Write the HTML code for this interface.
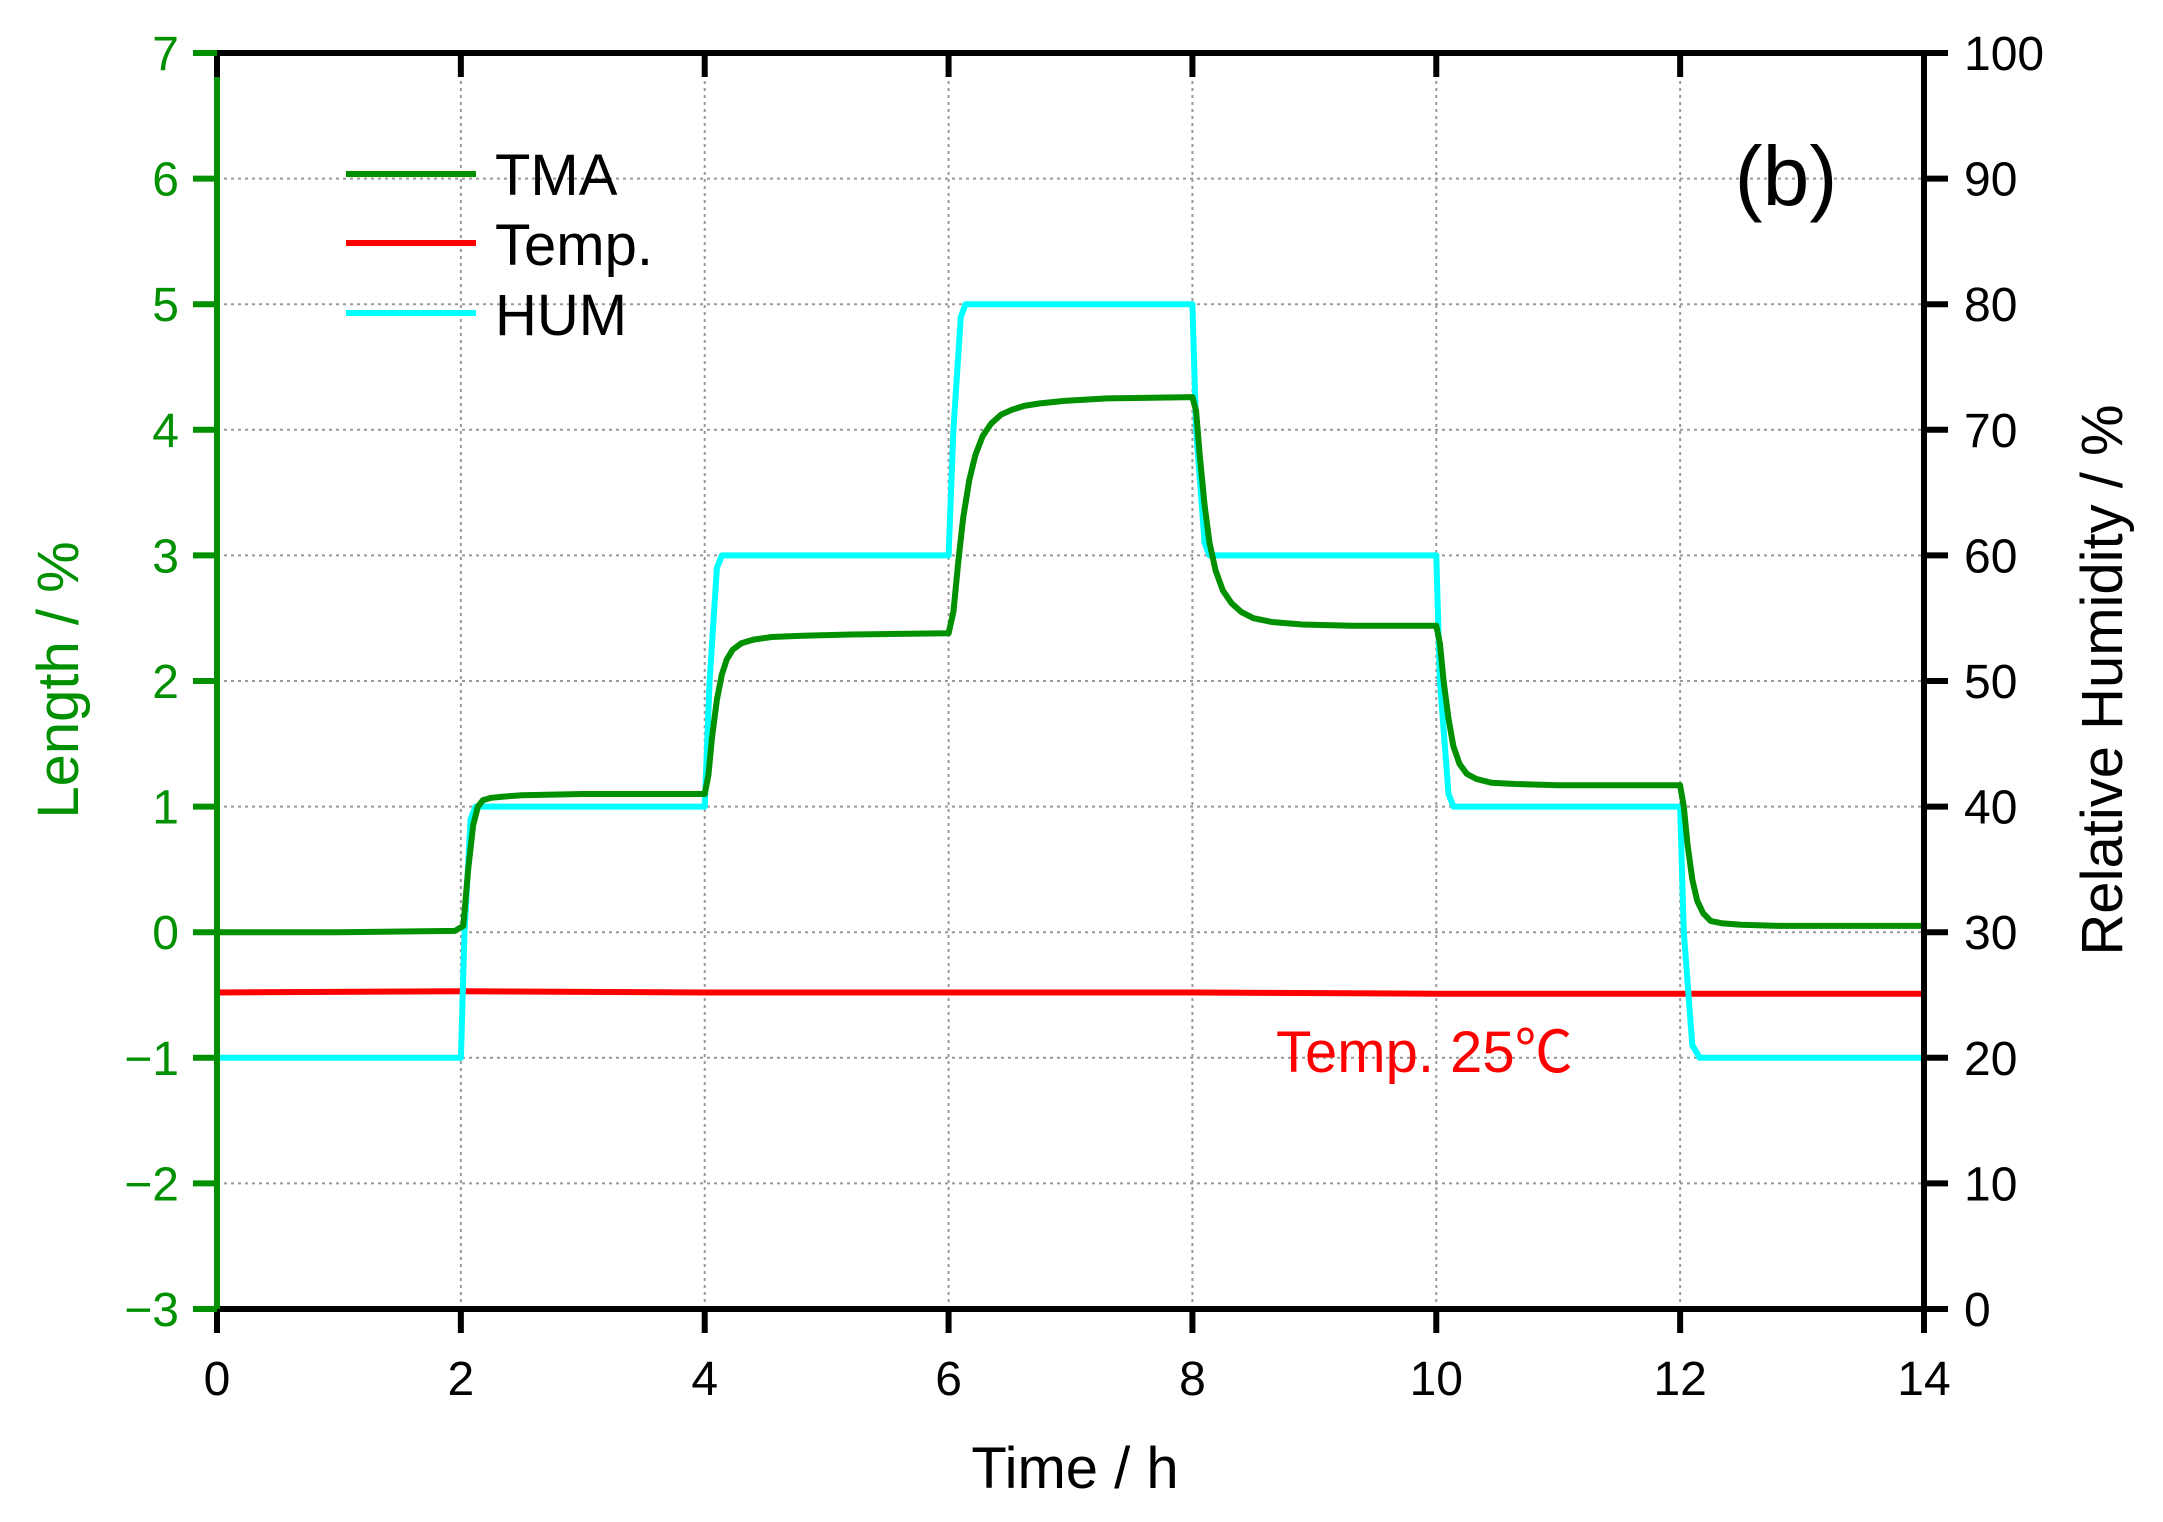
<!DOCTYPE html>
<html><head><meta charset="utf-8"><style>
html,body{margin:0;padding:0;background:#fff}
svg{display:block}
text{font-family:"Liberation Sans","Noto Sans CJK JP",sans-serif}
</style></head><body>
<svg id="chart" width="2163" height="1522" viewBox="0 0 2163 1522" xmlns="http://www.w3.org/2000/svg">
<g id="grid"></g>
<g id="series"></g>
<g id="axes"></g>
<text x="0" y="0" transform="translate(78,680) rotate(-90)" text-anchor="middle" font-size="58" fill="#009000">Length / %</text>
<text x="0" y="0" transform="translate(2122,680) rotate(-90)" text-anchor="middle" font-size="58" fill="#000">Relative Humidity / %</text>
<text x="1075" y="1488" text-anchor="middle" font-size="58" fill="#000">Time / h</text>
<text x="1786" y="205" text-anchor="middle" font-size="84" fill="#000">(b)</text>
<text x="1276" y="1072" font-size="58" fill="#ff0000">Temp. 25℃</text>
<g>
<line x1="346" y1="174" x2="476" y2="174" stroke="#009000" stroke-width="6"/>
<text x="495" y="195" font-size="58">TMA</text>
<line x1="346" y1="243" x2="476" y2="243" stroke="#ff0000" stroke-width="6"/>
<text x="495" y="265" font-size="58">Temp.</text>
<line x1="346" y1="313" x2="476" y2="313" stroke="#00ffff" stroke-width="6"/>
<text x="495" y="335" font-size="58">HUM</text>
</g>
</svg>
<script>
const xTicks = [0,2,4,6,8,10,12,14];
const yLeftTicks = [-3,-2,-1,0,1,2,3,4,5,6,7];
const yRightTicks = [0,10,20,30,40,50,60,70,80,90,100];
const yLeftLabels = ["−3","−2","−1","0","1","2","3","4","5","6","7"];
const tmaT = [0,1.0,1.95,2.02,2.06,2.1,2.14,2.18,2.25,2.35,2.5,3.0,4.0,4.03,4.06,4.1,4.14,4.18,4.23,4.3,4.4,4.55,4.8,5.2,6.0,6.04,6.08,6.12,6.17,6.22,6.28,6.35,6.43,6.52,6.62,6.75,6.95,7.3,8.0,8.03,8.06,8.1,8.14,8.19,8.25,8.32,8.4,8.5,8.65,8.9,9.3,10.0,10.03,10.06,10.1,10.14,10.19,10.25,10.33,10.45,10.65,11.0,12.0,12.03,12.06,12.1,12.14,12.19,12.25,12.35,12.5,12.8,14.0];
const tmaV = [0,0,0.01,0.05,0.5,0.85,1.0,1.05,1.07,1.08,1.09,1.1,1.1,1.25,1.55,1.85,2.05,2.17,2.25,2.3,2.33,2.35,2.36,2.37,2.38,2.55,2.95,3.3,3.6,3.8,3.95,4.05,4.12,4.16,4.19,4.21,4.23,4.25,4.26,4.15,3.8,3.4,3.1,2.88,2.72,2.62,2.55,2.5,2.47,2.45,2.44,2.44,2.3,2.0,1.7,1.48,1.34,1.26,1.22,1.19,1.18,1.17,1.17,1.0,0.7,0.42,0.25,0.15,0.09,0.07,0.06,0.05,0.05];
const humT = [0,2.0,2.03,2.08,2.12,4.0,4.04,4.1,4.14,6.0,6.04,6.1,6.14,8.0,8.03,8.1,8.14,10.0,10.03,10.1,10.14,12.0,12.03,12.1,12.16,14.0];
const humV = [20,20,30,39,40,40,50,59,60,60,70,79,80,80,70,61,60,60,50,41,40,40,30,21,20,20];
const tempT = [0,2,4,6,8,10,12,14];
const tempV = [-0.48,-0.47,-0.48,-0.48,-0.48,-0.49,-0.49,-0.49];

const L=217,R=1924,T=53,B=1309;
const NS="http://www.w3.org/2000/svg";
const xs=t=>L+(t-0)/(14-0)*(R-L);
const yl=v=>B-(v+3)/10*(B-T);
const yr=v=>B-v/100*(B-T);
function mk(tag,attrs,parent){const e=document.createElementNS(NS,tag);for(const k in attrs)e.setAttribute(k,attrs[k]);parent.appendChild(e);return e;}
const grid=document.getElementById('grid'),series=document.getElementById('series'),axes=document.getElementById('axes');
xTicks.forEach(t=>{ if(t>0&&t<14){const g=mk('line',{x1:xs(t),x2:xs(t),y1:T,y2:B,stroke:'#999','stroke-width':2,'stroke-dasharray':'3,4'},grid);

}});
yLeftTicks.forEach(v=>{ if(v>-3&&v<7){const g=mk('line',{x1:L,x2:R,y1:yl(v),y2:yl(v),stroke:'#999','stroke-width':2,'stroke-dasharray':'3,4'},grid);

}});
function path(ts,vs,yf,color,name){let d='';ts.forEach((t,i)=>{d+=(i?'L':'M')+xs(t).toFixed(1)+','+yf(vs[i]).toFixed(1);});
const p=mk('path',{d:d,fill:'none',stroke:color,'stroke-width':6,'stroke-linejoin':'round'},series);

}
path(tempT,tempV,yl,'#ff0000','temp-line');
path(humT,humV,yr,'#00ffff','hum-line');
path(tmaT,tmaV,yl,'#009000','tma-line');
let a;
a=mk('line',{x1:L,x2:R,y1:T,y2:T,stroke:'#000','stroke-width':6},axes);


a=mk('line',{x1:L-2,x2:R+2,y1:B,y2:B,stroke:'#000','stroke-width':6},axes);


a=mk('line',{x1:R,x2:R,y1:T,y2:B+24,stroke:'#000','stroke-width':6},axes);


a=mk('line',{x1:L,x2:L,y1:T,y2:B+24,stroke:'#009000','stroke-width':6},axes);


xTicks.forEach((t,i)=>{
 let k=mk('line',{x1:xs(t),x2:xs(t),y1:B,y2:B+24,stroke:'#000','stroke-width':6},axes);
 
 
 k=mk('line',{x1:xs(t),x2:xs(t),y1:T,y2:T+24,stroke:'#000','stroke-width':6},axes);
 
 
 const tx=mk('text',{x:xs(t),y:B+86,'text-anchor':'middle','font-size':48,fill:'#000'},axes);
 tx.textContent=String(t);
 
 
});
yLeftTicks.forEach((v,i)=>{
 const k=mk('line',{x1:L-24,x2:L,y1:yl(v),y2:yl(v),stroke:'#009000','stroke-width':6},axes);
 
 
 const tx=mk('text',{x:L-38,y:yl(v)+17,'text-anchor':'end','font-size':48,fill:'#009000'},axes);
 tx.textContent=yLeftLabels[i];
 
 
});
yRightTicks.forEach(v=>{
 const k=mk('line',{x1:R,x2:R+24,y1:yr(v),y2:yr(v),stroke:'#000','stroke-width':6},axes);
 
 
 const tx=mk('text',{x:R+40,y:yr(v)+17,'text-anchor':'start','font-size':48,fill:'#000'},axes);
 tx.textContent=String(v);
 
 
});
</script>
</body></html>
